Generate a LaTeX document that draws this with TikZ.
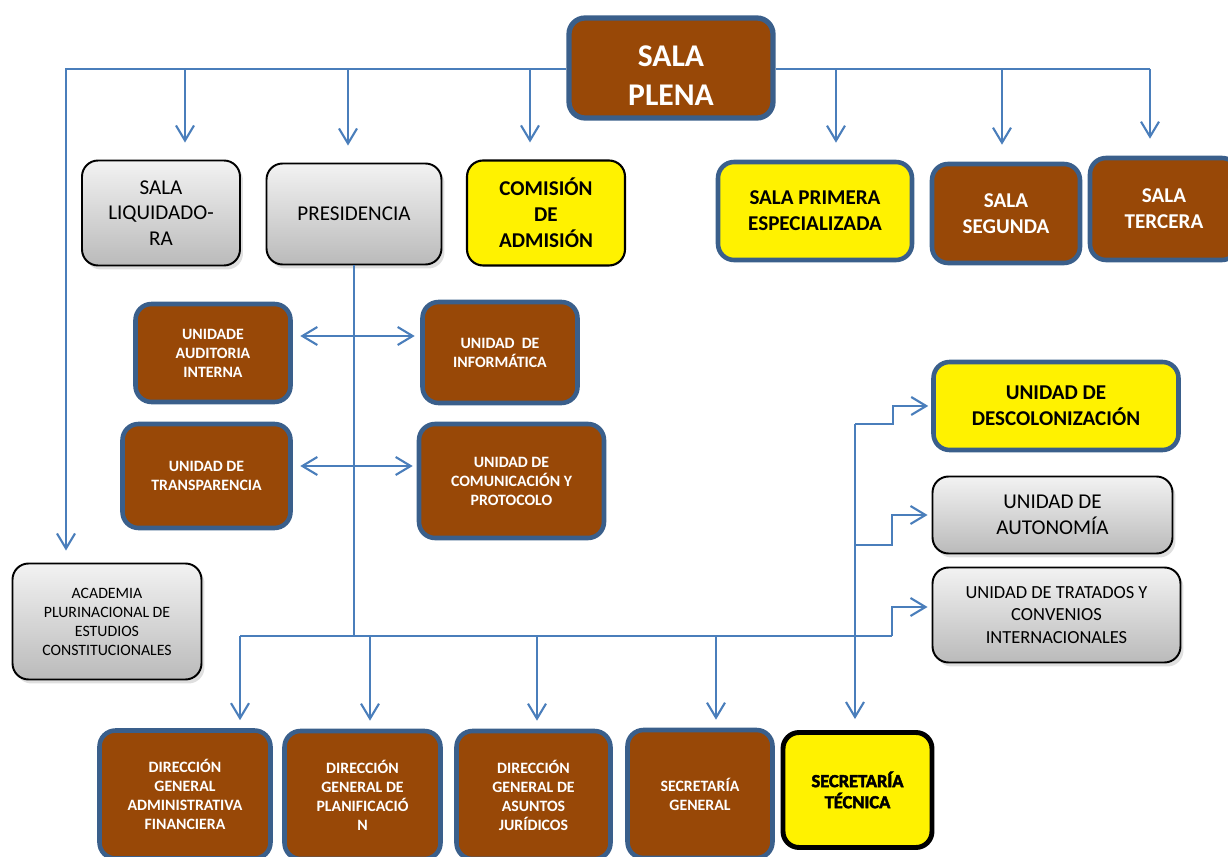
\documentclass[tikz,border=0pt]{standalone}
\usepackage{fontspec}
\setmainfont{Carlito}
\newfontfamily\heavyfont{Carlito Bold}[FakeBold=2.5]
\usepackage{tikz}
\usetikzlibrary{arrows.meta, positioning, shadows}
\definecolor{salabrown}{HTML}{984807}
\definecolor{frameblue}{HTML}{3A5F8B}
\definecolor{linkblue}{HTML}{4A7EBB}

\begin{document}
\begin{tikzpicture}[x=0.02cm, y=-0.02cm, >={Straight Barb[length=0.3cm, width=0.36cm]},
    box/.style={rectangle, rounded corners=0.32cm, align=center, inner sep=2pt},
    brownbox/.style={box, draw=frameblue, line width=2.6pt, fill=salabrown, text=white,
        font=\bfseries\fontsize{9}{10.8}\selectfont},
    yellowbox/.style={box, draw=frameblue, line width=2.6pt, fill=yellow,
        font=\bfseries\fontsize{12}{14.7}\selectfont},
    graybox/.style={box, draw=black, line width=1.1pt, top color=black!5, bottom color=black!27,
        drop shadow={opacity=0.25, shadow xshift=0.06cm, shadow yshift=-0.08cm},
        font=\fontsize{12}{14.7}\selectfont},
    link/.style={draw=linkblue, line width=1.2pt}]
    \useasboundingbox (0,0) rectangle (1228,857);

    % top
    \node[brownbox, minimum width=4.08cm, minimum height=2cm, line width=3pt,
        font=\bfseries\fontsize{18}{22}\selectfont] (plena) at (671,68) {\rule{0pt}{20.5pt}SALA\\PLENA};
    \node[graybox, minimum width=3.16cm, minimum height=2.1cm] (liq) at (161,213) {SALA\\LIQUIDADO-\\RA};
    \node[graybox, minimum width=3.5cm, minimum height=2.02cm] (pres) at (354,214) {PRESIDENCIA};
    \node[yellowbox, draw=black, line width=1.2pt, minimum width=3.16cm, minimum height=2.1cm] (comis) at (546,213) {COMISIÓN\\DE\\ADMISIÓN};
    \node[yellowbox, minimum width=3.88cm, minimum height=1.96cm] (prim) at (815,211) {SALA PRIMERA\\ESPECIALIZADA};
    \node[brownbox, font=\bfseries\fontsize{12}{14.7}\selectfont, minimum width=2.96cm, minimum height=1.98cm] (seg) at (1006,213.5) {SALA\\SEGUNDA};
    \node[brownbox, font=\bfseries\fontsize{12}{14.7}\selectfont, minimum width=2.96cm, minimum height=2.04cm] (ter) at (1164,209) {SALA\\TERCERA};

    % middle
    \node[brownbox, minimum width=3.1cm, minimum height=1.96cm] (aud) at (213,353) {UNIDADE\\AUDITORIA\\INTERNA};
    \node[brownbox, minimum width=3.1cm, minimum height=2.02cm] (inf) at (500,352.5) {UNIDAD\ \ DE\\INFORMÁTICA};
    \node[brownbox, minimum width=3.36cm, minimum height=2.08cm] (transp) at (206.5,476) {UNIDAD DE\\TRANSPARENCIA};
    \node[brownbox, minimum width=3.7cm, minimum height=2.28cm] (comun) at (511.5,481) {UNIDAD DE\\COMUNICACIÓN Y\\PROTOCOLO};

    % right
    \node[yellowbox, minimum width=4.9cm, minimum height=1.76cm] (descol) at (1056,406) {UNIDAD DE\\DESCOLONIZACIÓN};
    \node[graybox, minimum width=4.8cm, minimum height=1.54cm] (auton) at (1052.5,515) {UNIDAD DE\\AUTONOMÍA};
    \node[graybox, minimum width=4.96cm, minimum height=1.9cm, font=\fontsize{10.5}{12.8}\selectfont] (trat) at (1056.5,615) {UNIDAD DE TRATADOS Y\\CONVENIOS\\INTERNACIONALES};
    \node[graybox, minimum width=3.78cm, minimum height=2.32cm, font=\fontsize{9}{10.8}\selectfont] (acad) at (107,621.5) {ACADEMIA\\PLURINACIONAL DE\\ESTUDIOS\\CONSTITUCIONALES};

    % bottom
    \node[brownbox, minimum width=3.42cm, minimum height=2.56cm] (dgaf) at (185,794.5) {DIRECCIÓN\\GENERAL\\ADMINISTRATIVA\\FINANCIERA};
    \node[brownbox, minimum width=3.12cm, minimum height=2.56cm] (dgp) at (362.5,795) {DIRECCIÓN\\GENERAL DE\\PLANIFICACIÓ\\N};
    \node[brownbox, minimum width=3.08cm, minimum height=2.56cm] (dgaj) at (533.5,795) {DIRECCIÓN\\GENERAL DE\\ASUNTOS\\JURÍDICOS};
    \node[brownbox, minimum width=2.9cm, minimum height=2.56cm] (sg) at (700,794) {SECRETARÍA\\GENERAL};
    \node[yellowbox, draw=black, line width=2.8pt, minimum width=2.98cm, minimum height=2.3cm,
        font=\heavyfont\fontsize{10.5}{12}\selectfont] (st) at (857.5,790) {SECRETARÍA\\TÉCNICA};

    % lines from sala plena
    \coordinate (busL) at (66,69);
    \coordinate (busR) at (1150,69);
    \draw[link, ->, shorten >=0.24cm] (busL -| plena.west) -- (busL) -- (busL |- acad.north);
    \draw[link] (busR -| plena.east) -- (busR);
    \foreach \x/\n in {185/liq, 348/pres, 530/comis, 836/prim, 1002/seg, 1150/ter}
        \draw[link, ->, shorten >=0.34cm] (\x,69) -- ({(\x,69)} |- \n.north);

    % presidencia
    \coordinate (bL) at (240,636);
    \coordinate (bR) at (892,636);
    \draw[link] (pres.south) -- (pres.south |- bL);
    \draw[link, <->, shorten <=0.15cm, shorten >=0.11cm] ([yshift=0.34cm]aud.east) -- ([yshift=0.34cm]aud.east -| inf.west);
    \draw[link, <->, shorten <=0.15cm, shorten >=0.08cm] ([yshift=0.2cm]transp.east) -- ([yshift=0.2cm]transp.east -| comun.west);
    \draw[link] (bL) -- (bR);
    \foreach \x/\n in {240/dgaf, 370/dgp, 537/dgaj, 716/sg}
        \draw[link, ->, shorten >=0.16cm] (\x,636) -- ({(\x,636)} |- \n.north);
    \draw[link, ->, shorten >=0.08cm] (bR) |- ([yshift=0.16cm]trat.west);

    % secretaria tecnica
    \coordinate (rT) at (855,424);
    \coordinate (rM) at (855,545);
    \draw[link, ->, shorten >=0.22cm] (rT) -- (rT |- st.north);
    \draw[link, ->, shorten >=0.06cm] (rT) -- ++(38,0) |- (descol.west);
    \draw[link, ->, shorten >=0.08cm] (rM) -- ++(37,0) |- (auton.west);
\end{tikzpicture}
\end{document}
